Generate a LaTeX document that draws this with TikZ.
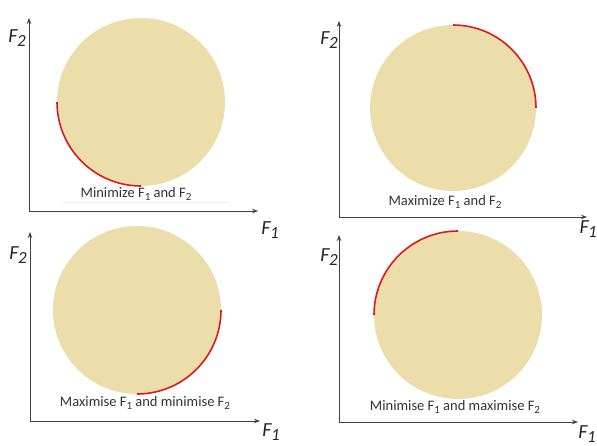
\documentclass[tikz,border=0pt]{standalone}
\usepackage{fontspec}
\setmainfont{Carlito}
\usetikzlibrary{arrows.meta}
\definecolor{discfill}{RGB}{235,222,170}
\definecolor{frontred}{RGB}{222,24,34}
\newcommand{\axlab}[1]{\fontsize{20}{20}\selectfont\itshape F\kern-0.5pt\raisebox{-0.45ex}{\fontsize{17}{17}\selectfont #1}}
\newcommand{\capsub}[1]{\raisebox{-0.4ex}{\fontsize{11}{11}\selectfont #1}}
\tikzset{
  axis/.style={draw=black!75, line width=0.8pt, -{Stealth[length=6pt, width=4.5pt]}},
  disc/.style={fill=discfill},
  front/.style={draw=frontred, line width=1.6pt},
  caption/.style={font=\fontsize{14.5}{16}\selectfont, text=black!80, inner sep=0pt},
  axname/.style={inner sep=0pt, text=black!85}
}

\begin{document}
\begin{tikzpicture}[x=1pt, y=1pt]
\useasboundingbox (0,0) rectangle (597,-446);

\coordinate (o1) at (29,-211);
\coordinate (y1) at (29,-18);
\coordinate (x1) at (258,-211);
\fill[disc] (141,-102) circle (84pt);
\draw[front] (57,-102) arc[start angle=180, end angle=270, radius=84pt];
\draw[black!6, line width=0.6pt] (62,-202) -- (230,-202);
\draw[axis] (o1) -- (y1);
\draw[axis] (o1) -- (x1);
\node[caption] (lab1) at (136,-194) {Minimize F\capsub{1} and F\capsub{2}};
\node[axname] (f2a) at (17,-38) {\axlab{2}};
\node[axname] (f1a) at (270,-230) {\axlab{1}};

\coordinate (o2) at (339,-217);
\coordinate (y2) at (339,-21);
\coordinate (x2) at (587,-217);
\fill[disc] (453,-108) circle (83pt);
\draw[front] (453,-25) arc[start angle=90, end angle=0, radius=83pt];
\draw[axis] (o2) -- (y2);
\draw[axis] (o2) -- (x2);
\node[caption] (lab2) at (445,-202) {Maximize F\capsub{1} and F\capsub{2}};
\node[axname] (f2b) at (329,-40) {\axlab{2}};
\node[axname, anchor=east] (f1b) at (597,-229) {\axlab{1}};

\coordinate (o3) at (30,-421);
\coordinate (y3) at (30,-232);
\coordinate (x3) at (260,-421);
\fill[disc] (137,-310) circle (84pt);
\draw[front] (221,-310) arc[start angle=0, end angle=-90, radius=84pt];
\draw[axis] (o3) -- (y3);
\draw[axis] (o3) -- (x3);
\node[caption] (lab3) at (145,-403) {Maximise F\capsub{1} and minimise F\capsub{2}};
\node[axname] (f2c) at (18,-255) {\axlab{2}};
\node[axname] (f1c) at (271,-432) {\axlab{1}};

\coordinate (o4) at (339,-422);
\coordinate (y4) at (339,-235);
\coordinate (x4) at (578,-422);
\fill[disc] (458,-315) circle (84pt);
\draw[front] (458,-231) arc[start angle=90, end angle=180, radius=84pt];
\draw[axis] (o4) -- (y4);
\draw[axis] (o4) -- (x4);
\node[caption] (lab4) at (455,-407) {Minimise F\capsub{1} and maximise F\capsub{2}};
\node[axname] (f2d) at (329,-257) {\axlab{2}};
\node[axname] (f1d) at (587,-434) {\axlab{1}};

\end{tikzpicture}
\end{document}
